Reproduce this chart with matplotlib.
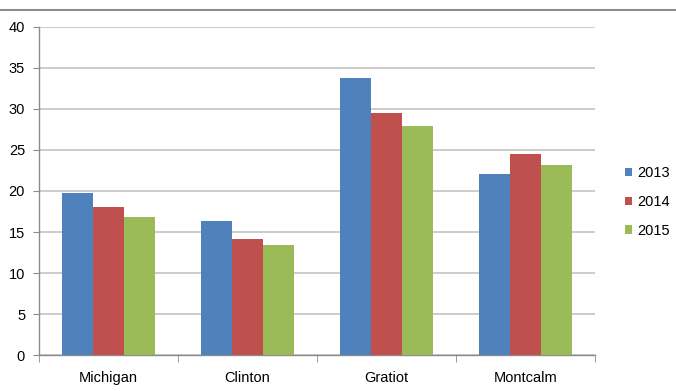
import numpy as np
import matplotlib
matplotlib.use('Agg')
import matplotlib.pyplot as plt
from matplotlib.lines import Line2D

counties = ['Michigan', 'Clinton', 'Gratiot', 'Montcalm']
years = ['2013', '2014', '2015']
vals_2013 = [19.7, 16.4, 33.8, 22.1]
vals_2014 = [18.0, 14.2, 29.5, 24.5]
vals_2015 = [16.8, 13.4, 27.9, 23.2]
colors = ['#4F81BD', '#C0504D', '#9BBB59']

plt.rcParams['font.family'] = ['Liberation Sans', 'DejaVu Sans']

fig = plt.figure(figsize=(6.76, 3.91), dpi=100)
ax = fig.add_axes([39 / 676, 35.7 / 391, 556 / 676, 328.6 / 391])

x = np.arange(len(counties))
width = 1 / 4.5
for i, (vals, yr) in enumerate(zip([vals_2013, vals_2014, vals_2015], years)):
    ax.bar(x + (i - 1) * width, vals, width, color=colors[i], label=yr, zorder=3)

ax.set_xlim(-0.5, len(counties) - 0.5)
ax.set_ylim(0, 40)
ax.set_yticks(range(0, 41, 5))
ax.set_xticks(x)
ax.set_xticklabels(counties)
ax.set_xticks(np.arange(-0.5, len(counties)), minor=True)

ax.yaxis.grid(True, color='#C8C8C8', linewidth=1.3, zorder=0)
for side in ['top', 'right']:
    ax.spines[side].set_visible(False)
for side in ['left', 'bottom']:
    ax.spines[side].set_color('#8C8C8C')
    ax.spines[side].set_linewidth(1.0)

ax.tick_params(axis='x', which='major', length=0, pad=11, labelsize=10.5)
ax.tick_params(axis='x', which='minor', length=5, color='#8C8C8C', direction='out')
ax.tick_params(axis='y', length=4, color='#8C8C8C', pad=6, labelsize=10.5)

# border line across the top of the chart area
fig.add_artist(Line2D([0, 1], [1 - 9.5 / 391, 1 - 9.5 / 391], transform=fig.transFigure,
                      color='#8C8C8C', linewidth=1.5))

fig.legend(loc='center left', bbox_to_anchor=(612 / 676, 1 - 202 / 391), frameon=False,
           fontsize=10.5, handlelength=0.5, handleheight=0.5, handletextpad=0.35,
           labelspacing=1.0)

fig.savefig('out.png', dpi=100)
